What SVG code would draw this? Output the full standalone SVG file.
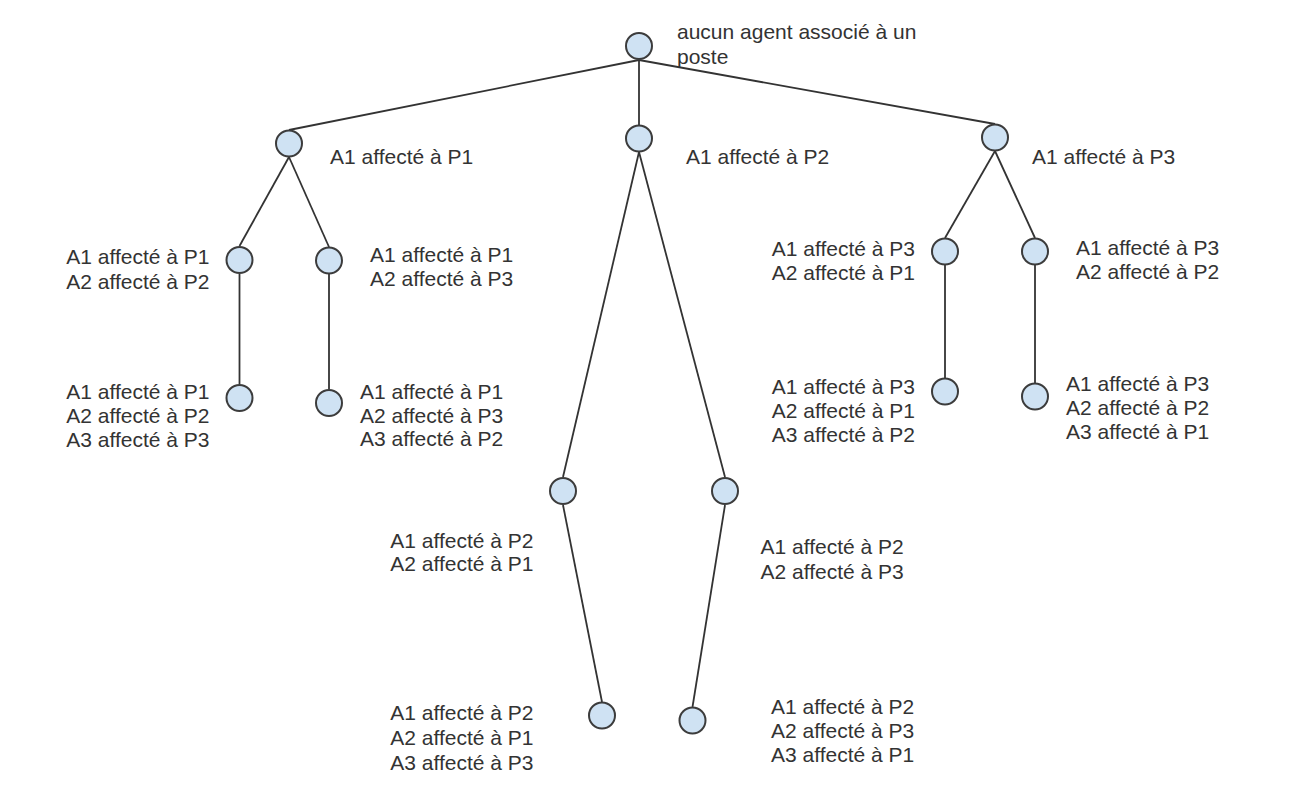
<svg xmlns="http://www.w3.org/2000/svg" width="1300" height="806" viewBox="0 0 1300 806">
<style>
.n{fill:#cfe2f3;stroke:#3c3c3c;stroke-width:2}
.c line{stroke:#333;stroke-width:1.8}
text{font-family:"Liberation Sans",Arial,sans-serif;font-size:21px;fill:#333}
.e{text-anchor:end}
</style>
<rect width="1300" height="806" fill="#fff"/>
<g class="c" id="connectors">
<line x1="639" y1="60" x2="289" y2="130"/>
<line x1="639" y1="60" x2="639" y2="125"/>
<line x1="639" y1="60" x2="995" y2="124"/>
<line x1="289" y1="157" x2="239.5" y2="246"/>
<line x1="289" y1="157" x2="329" y2="247"/>
<line x1="239.5" y1="274" x2="239.5" y2="384"/>
<line x1="329" y1="274" x2="329" y2="389"/>
<line x1="639" y1="152" x2="563" y2="477"/>
<line x1="639" y1="152" x2="725" y2="477"/>
<line x1="563" y1="505" x2="602" y2="702"/>
<line x1="725" y1="505" x2="692.5" y2="707"/>
<line x1="995" y1="151" x2="945" y2="238"/>
<line x1="995" y1="151" x2="1035" y2="238"/>
<line x1="945" y1="265" x2="945" y2="378"/>
<line x1="1035" y1="265" x2="1035" y2="383"/>
</g>
<g id="root"><circle class="n" cx="639" cy="46" r="13"/><text x="677" y="39">aucun agent associé à un</text><text x="677" y="64">poste</text></g>
<g id="n1"><circle class="n" cx="289" cy="143.5" r="13"/><text x="330" y="164">A1 affecté à P1</text></g>
<g id="n2"><circle class="n" cx="639" cy="138.5" r="13"/><text x="686" y="164">A1 affecté à P2</text></g>
<g id="n3"><circle class="n" cx="995" cy="137.5" r="13"/><text x="1032" y="164">A1 affecté à P3</text></g>
<g id="n11"><circle class="n" cx="239.5" cy="260" r="13"/><text class="e" x="209.5" y="264">A1 affecté à P1</text><text class="e" x="209.5" y="289">A2 affecté à P2</text></g>
<g id="n12"><circle class="n" cx="329" cy="260.5" r="13"/><text x="370" y="262">A1 affecté à P1</text><text x="370" y="286">A2 affecté à P3</text></g>
<g id="n111"><circle class="n" cx="239.5" cy="398" r="13"/><text class="e" x="209.5" y="399">A1 affecté à P1</text><text class="e" x="209.5" y="423">A2 affecté à P2</text><text class="e" x="209.5" y="447">A3 affecté à P3</text></g>
<g id="n121"><circle class="n" cx="329" cy="403" r="13"/><text x="360" y="399">A1 affecté à P1</text><text x="360" y="423">A2 affecté à P3</text><text x="360" y="446">A3 affecté à P2</text></g>
<g id="n21"><circle class="n" cx="563" cy="491" r="13"/><text class="e" x="533.5" y="548">A1 affecté à P2</text><text class="e" x="533.5" y="571">A2 affecté à P1</text></g>
<g id="n22"><circle class="n" cx="725" cy="491" r="13"/><text x="760.5" y="554">A1 affecté à P2</text><text x="760.5" y="579">A2 affecté à P3</text></g>
<g id="n211"><circle class="n" cx="602" cy="715.5" r="13"/><text class="e" x="533.5" y="720">A1 affecté à P2</text><text class="e" x="533.5" y="745">A2 affecté à P1</text><text class="e" x="533.5" y="770">A3 affecté à P3</text></g>
<g id="n221"><circle class="n" cx="692.5" cy="720.5" r="13"/><text x="771" y="714">A1 affecté à P2</text><text x="771" y="738">A2 affecté à P3</text><text x="771" y="762">A3 affecté à P1</text></g>
<g id="n31"><circle class="n" cx="945" cy="251.5" r="13"/><text class="e" x="915" y="256">A1 affecté à P3</text><text class="e" x="915" y="280">A2 affecté à P1</text></g>
<g id="n32"><circle class="n" cx="1035" cy="251.5" r="13"/><text x="1076" y="255">A1 affecté à P3</text><text x="1076" y="279">A2 affecté à P2</text></g>
<g id="n311"><circle class="n" cx="945" cy="391.5" r="13"/><text class="e" x="915" y="394">A1 affecté à P3</text><text class="e" x="915" y="418">A2 affecté à P1</text><text class="e" x="915" y="442">A3 affecté à P2</text></g>
<g id="n321"><circle class="n" cx="1035" cy="396.5" r="13"/><text x="1066" y="391">A1 affecté à P3</text><text x="1066" y="415">A2 affecté à P2</text><text x="1066" y="439">A3 affecté à P1</text></g>
</svg>
